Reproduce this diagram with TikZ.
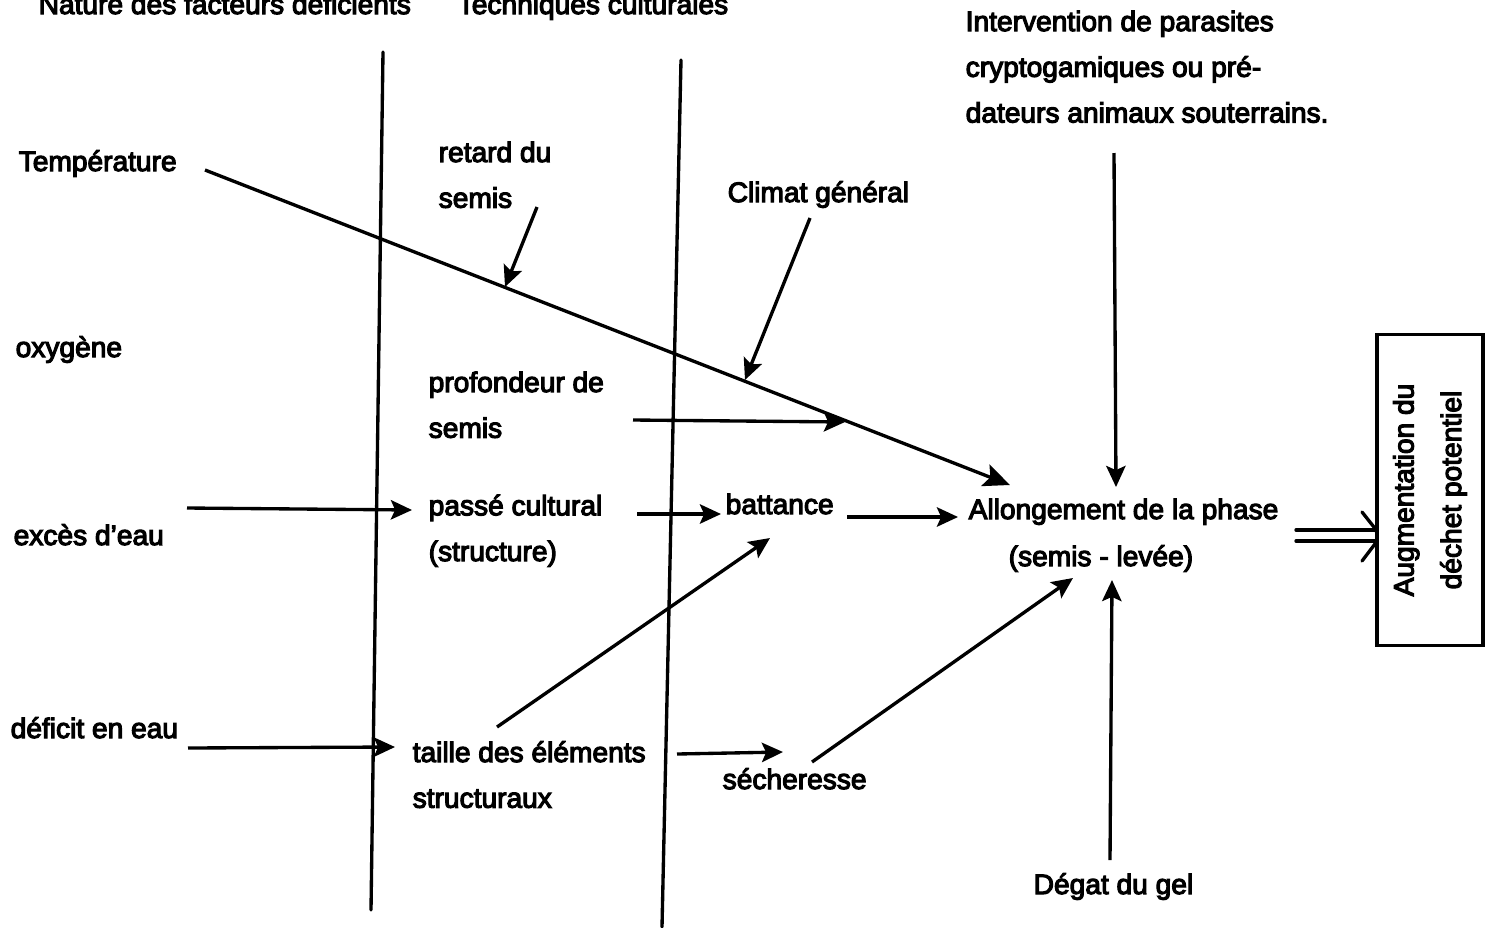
\documentclass[tikz,border=0pt]{standalone}
\usepackage{fontspec}
\setmainfont{Liberation Sans}[RawFeature={embolden=4}]
\usetikzlibrary{arrows.meta}
\begin{document}
\begin{tikzpicture}[x=0.01cm,y=-0.01cm,
  txt/.style={inner sep=0pt, anchor=base west, align=left, font=\fontsize{8}{13}\selectfont},
  ln/.style={line width=0.95pt, line cap=round},
  arr/.style={line width=0.95pt, -{Stealth[length=6pt,width=5.5pt,inset=1.2pt]}},
  bigarr/.style={line width=0.95pt, -{Stealth[length=7.5pt,width=6.5pt,inset=1.5pt]}}]
\useasboundingbox (0,0) rectangle (1500,927);

% headers (cut at the top edge, as in the reference)
\node[txt] (hnat) at (38,14) {Nature des facteurs déficients};
\node[txt] (htech) at (457,14) {Techniques culturales};
\node[txt] (para) at (965,122.5) {Intervention de parasites\\cryptogamiques ou pré-\\dateurs animaux souterrains.};

% vertical separators
\coordinate (l1a) at (383,52); \coordinate (l1b) at (371,910);
\coordinate (l2a) at (681,60); \coordinate (l2b) at (662,927);
\draw[ln] (l1a) -- (l1b);
\draw[ln] (l2a) -- (l2b);

% text nodes (base = baseline of the last line)
\node[txt] (temp) at (18,171) {Température};
\node[txt] (retard) at (438,207.7) {retard du\\semis};
\node[txt] (climat) at (727,202) {Climat général};
\node[txt] (oxy) at (15,357) {oxygène};
\node[txt] (prof) at (428,437.7) {profondeur de\\semis};
\node[txt] (passe) at (428,561) {passé cultural\\(structure)};
\node[txt] (exces) at (13,545) {excès d’eau};
\node[txt] (batt) at (725,514) {battance};
\node[txt] (allong) at (968,519) {Allongement de la phase};
\node[txt] (semlev) at (1008,566) {(semis - levée)};
\node[txt] (deficit) at (10,738) {déficit en eau};
\node[txt] (taille) at (412,807.7) {taille des éléments\\structuraux};
\node[txt] (sech) at (722,789) {sécheresse};
\node[txt] (gel) at (1033,894) {Dégat du gel};

\node[draw, line width=0.95pt, rotate=90, minimum width=3.11cm, minimum height=1.06cm,
      align=center, inner sep=0pt, font=\fontsize{8}{13.5}\selectfont] (box) at (1430,490)
      {Augmentation du\\déchet potentiel};

% temperature main line
\coordinate (t0) at (205,170);
\coordinate (t1) at (1010,485);
\draw[bigarr] (t0) -- (t1);

% arrows onto the temperature line
\coordinate (r0) at (537,207); \coordinate (r1) at (505,287);
\draw[arr] (r0) -- (r1);
\coordinate (c0) at (810,218); \coordinate (c1) at (745,380);
\draw[arr] (c0) -- (c1);
\coordinate (p0) at (633,420); \coordinate (p1) at (845,422);
\draw[arr] (p0) -- (p1);

% middle chain
\coordinate (e0) at (187,508); \coordinate (e1) at (412,510);
\draw[arr] (e0) -- (e1);
\coordinate (pb0) at (637,514); \coordinate (pb1) at (721,514);
\draw[arr] (pb0) -- (pb1);
\coordinate (ba0) at (847,517); \coordinate (ba1) at (958,517);
\draw[arr] (ba0) -- (ba1);

% verticals into Allongement
\coordinate (v0) at (1114,153); \coordinate (v1) at (1116,487);
\draw[arr] (v0) -- (v1);
\coordinate (g0) at (1110,860); \coordinate (g1) at (1112,580);
\draw[arr] (g0) -- (g1);

% lower chain
\coordinate (tb0) at (497,727); \coordinate (tb1) at (770,538);
\draw[arr] (tb0) -- (tb1);
\coordinate (s0) at (812,762); \coordinate (s1) at (1073,578);
\draw[arr] (s0) -- (s1);
\coordinate (d0) at (188,748); \coordinate (d1) at (395,747);
\draw[arr] (d0) -- (d1);
\coordinate (ts0) at (677,754); \coordinate (ts1) at (783,752);
\draw[arr] (ts0) -- (ts1);

% double arrow into box
\coordinate (da0) at (1296,530); \coordinate (da1) at (1376,530);
\coordinate (db0) at (1296,541); \coordinate (db1) at (1376,541);
\draw[ln] (da0) -- (da1);
\draw[ln] (db0) -- (db1);
\coordinate (ch0) at (1362,512); \coordinate (ch1) at (1381,536); \coordinate (ch2) at (1362,561);
\draw[ln, rounded corners=3pt] (ch0) -- (ch1) -- (ch2);
\end{tikzpicture}
\end{document}
